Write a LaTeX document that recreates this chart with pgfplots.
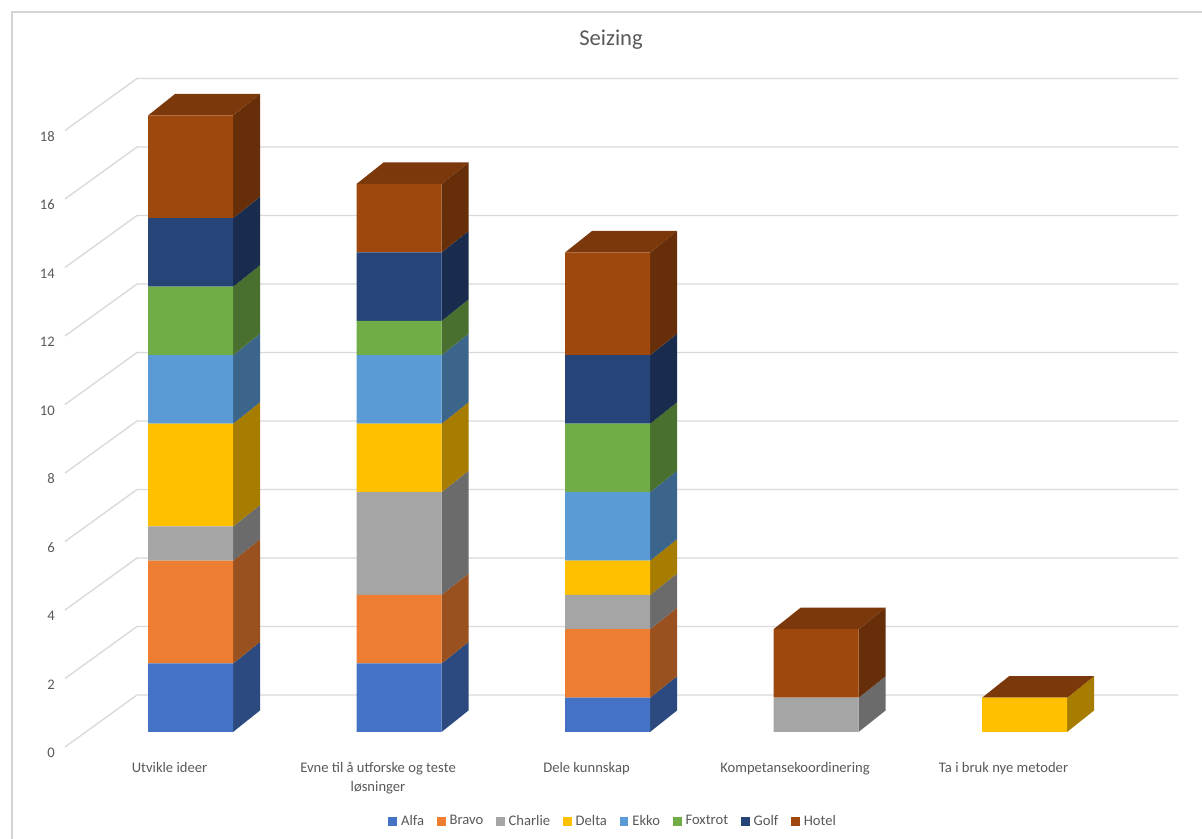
\documentclass[border=0pt]{standalone}
\usepackage{pgfplots}
\usepackage{pgfplotstable}
\pgfplotsset{compat=1.18}
\usepackage{fontspec}
\setmainfont{Carlito}

\definecolor{cAlfa}{HTML}{4472C4}
\definecolor{cBravo}{HTML}{ED7D31}
\definecolor{cCharlie}{HTML}{A5A5A5}
\definecolor{cDelta}{HTML}{FFC000}
\definecolor{cEkko}{HTML}{5B9BD5}
\definecolor{cFoxtrot}{HTML}{70AD47}
\definecolor{cGolf}{HTML}{264478}
\definecolor{cHotel}{HTML}{9E480E}
\colorlet{sideAlfa}{cAlfa!65!black}
\colorlet{sideBravo}{cBravo!65!black}
\colorlet{sideCharlie}{cCharlie!65!black}
\colorlet{sideDelta}{cDelta!65!black}
\colorlet{sideEkko}{cEkko!65!black}
\colorlet{sideFoxtrot}{cFoxtrot!65!black}
\colorlet{sideGolf}{cGolf!65!black}
\colorlet{sideHotel}{cHotel!65!black}
\colorlet{topHotel}{cHotel!78!black}
\definecolor{txt}{HTML}{595959}
\definecolor{gridcol}{HTML}{D9D9D9}
\definecolor{framecol}{HTML}{D4D4D4}

% Number of answers per category and group
\pgfplotstableread{
x Alfa Bravo Charlie Delta Ekko Foxtrot Golf Hotel
0 2 3 1 3 2 2 2 3
1 2 2 3 2 2 1 2 2
2 1 2 1 1 2 2 2 3
3 0 0 1 0 0 0 0 2
4 0 0 0 1 0 0 0 0
}\datatable

% bar half width, depth offsets (x in category units, y in data units)
\def\hw{0.20384}
\def\dx{0.1295}
\def\dy{0.628}

\pgfplotsset{
  common/.style={
    at={(48.75bp,67.41bp)}, anchor=south west,
    scale only axis, width=834.75bp, height=513.75bp,
    xmin=-0.6019, xmax=4.736, ymin=-0.5, ymax=19.5,
    clip=false,
  },
  sq/.style={legend image code/.code={\fill[##1] (0bp,-0.35em) rectangle (6.6bp,-0.35em+6.6bp);}},
}

\begin{document}
\begin{tikzpicture}
\useasboundingbox (0,0) rectangle (901.5bp,629.25bp);
\fill[white] (0,0) rectangle (901.5bp,629.25bp);
\draw[framecol, line width=1bp] (9bp,-1bp) -- (9bp,620.25bp) -- (905bp,620.25bp);
\node[text=txt, font=\fontsize{17}{20}\selectfont] at (458.25bp,599.25bp) {Seizing};

% walls, grid, labels and the depth faces of the columns
\begin{axis}[common,
  axis line style={draw=none}, tick style={draw=none},
  major tick length=0pt,
  ytick={0,2,...,18},
  xtick={0,1,2,3,4},
  xticklabels={Utvikle ideer, Evne til å utforske og teste\\løsninger, Dele kunnskap, Kompetansekoordinering, Ta i bruk nye metoder},
  /pgf/number format/assume math mode=true,
  yticklabel style={anchor=east, inner sep=0pt, xshift=-7.5bp, yshift=-15.75bp, text=txt, font=\fontsize{11}{13}\selectfont},
  xticklabel style={anchor=north, align=center, inner sep=0pt, xshift=-15.75bp, yshift=-9.5bp, text=txt, font=\fontsize{11}{14.25}\selectfont},
]
\pgfplotsforeachungrouped \v in {0,2,...,18} {
  \pgfmathsetmacro\ya{\v-0.438}
  \pgfmathsetmacro\yb{\v+1.080}
  \edef\temp{\noexpand\addplot[forget plot, draw=gridcol, line width=1bp, mark=none] coordinates {(-0.6019,\ya) (-0.2566,\yb) (4.736,\yb)};}
  \temp
}
\foreach \r in {0,...,4} {
  \def\cum{0}
  \pgfmathsetmacro\xa{\r+\hw}
  \pgfmathsetmacro\xb{\r+\hw+\dx}
  \pgfmathsetmacro\xc{\r-\hw}
  \pgfmathsetmacro\xd{\r-\hw+\dx}
  \pgfplotsforeachungrouped \s in {Alfa,Bravo,Charlie,Delta,Ekko,Foxtrot,Golf,Hotel} {
    \pgfplotstablegetelem{\r}{\s}\of\datatable
    \let\val\pgfplotsretval
    \pgfmathsetmacro\lo{\cum}
    \pgfmathsetmacro\hi{\cum+\val}
    \pgfmathsetmacro\lob{\lo+\dy}
    \pgfmathsetmacro\hib{\hi+\dy}
    \ifdim\val pt>0pt
      \edef\temp{\noexpand\addplot[forget plot, draw=none, fill=side\s] coordinates {(\xa,\lo) (\xb,\lob) (\xb,\hib) (\xa,\hi)} -- cycle;}%
      \temp
    \fi
    \let\cum\hi
  }
  \pgfmathsetmacro\tb{\cum+\dy}
  \ifdim\cum pt>0pt
    \edef\temp{\noexpand\addplot[forget plot, draw=none, fill=topHotel] coordinates {(\xc,\cum) (\xa,\cum) (\xb,\tb) (\xd,\tb)} -- cycle;}%
    \temp
  \fi
}
\end{axis}

% front faces of the stacked columns
\begin{axis}[common, hide axis,
  ybar stacked, bar width=63.75bp,
  legend columns=8,
  legend style={at={(0.4928,-0.1049)}, anchor=center, draw=none, fill=none,
    font=\fontsize{11}{13}\selectfont, text=txt, inner sep=0pt,
    /tikz/every even column/.append style={column sep=7.5bp},
    /tikz/every odd column/.append style={column sep=1bp}},
]
\addplot[fill=cAlfa, draw=none, sq] table[x=x, y=Alfa]{\datatable};
\addplot[fill=cBravo, draw=none, sq] table[x=x, y=Bravo]{\datatable};
\addplot[fill=cCharlie, draw=none, sq] table[x=x, y=Charlie]{\datatable};
\addplot[fill=cDelta, draw=none, sq] table[x=x, y=Delta]{\datatable};
\addplot[fill=cEkko, draw=none, sq] table[x=x, y=Ekko]{\datatable};
\addplot[fill=cFoxtrot, draw=none, sq] table[x=x, y=Foxtrot]{\datatable};
\addplot[fill=cGolf, draw=none, sq] table[x=x, y=Golf]{\datatable};
\addplot[fill=cHotel, draw=none, sq] table[x=x, y=Hotel]{\datatable};
\legend{Alfa, Bravo, Charlie, Delta, Ekko, Foxtrot, Golf, Hotel}
\end{axis}
\end{tikzpicture}
\end{document}
